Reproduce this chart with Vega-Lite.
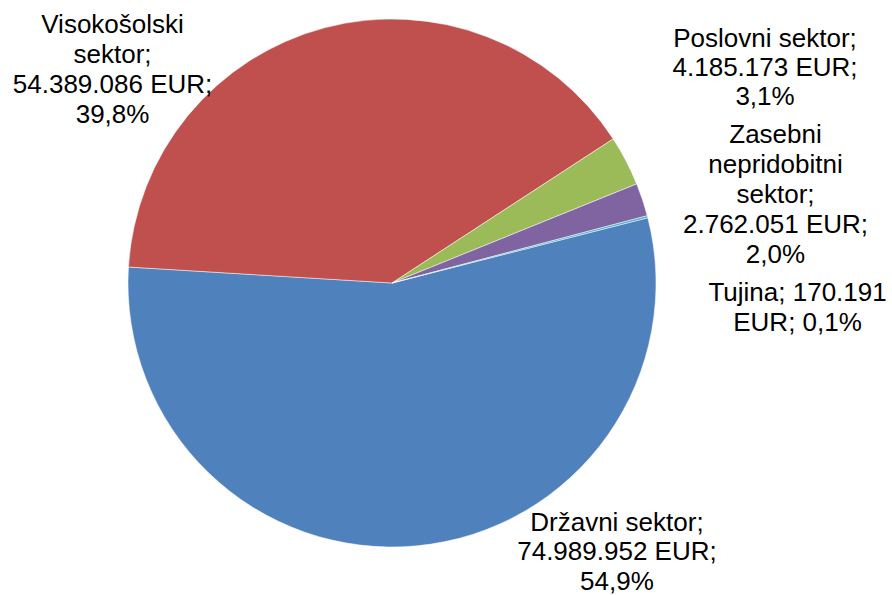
{
  "$schema": "https://vega.github.io/schema/vega-lite/v6.json",
  "width": 784,
  "height": 566,
  "autosize": "none",
  "padding": {"left": 0, "top": 0, "right": 108, "bottom": 29},
  "background": "white",
  "data": {
    "values": [
      {"cat": "Državni sektor", "value": 74989952, "ord": 1, "label": "Državni sektor;\n74.989.952 EUR;\n54,9%"},
      {"cat": "Visokošolski sektor", "value": 54389086, "ord": 2, "label": "Visokošolski\nsektor;\n54.389.086 EUR;\n39,8%"},
      {"cat": "Poslovni sektor", "value": 4185173, "ord": 3, "label": "Poslovni sektor;\n4.185.173 EUR;\n3,1%"},
      {"cat": "Zasebni nepridobitni sektor", "value": 2762051, "ord": 4, "label": "Zasebni\nnepridobitni\nsektor;\n2.762.051 EUR;\n2,0%"},
      {"cat": "Tujina", "value": 170191, "ord": 5, "label": "Tujina; 170.191\nEUR; 0,1%"}
    ]
  },
  "encoding": {
    "theta": {"field": "value", "type": "quantitative", "stack": true, "scale": {"range": [1.321, 7.6042]}},
    "order": {"field": "ord", "type": "quantitative", "sort": "ascending"}
  },
  "layer": [
    {
      "mark": {"type": "arc", "outerRadius": 264, "stroke": "white", "strokeWidth": 0.5},
      "encoding": {
        "color": {
          "field": "cat", "type": "nominal", "legend": null,
          "scale": {
            "domain": ["Državni sektor", "Visokošolski sektor", "Poslovni sektor", "Zasebni nepridobitni sektor", "Tujina"],
            "range": ["#4F81BD", "#C0504D", "#9BBB59", "#8064A2", "#4BACC6"]
          }
        }
      }
    },
    {
      "mark": {"type": "text", "radius": 264, "dx": 200, "dy": -23, "align": "center", "baseline": "middle", "lineBreak": "\n", "fontSize": 26, "lineHeight": 29.5, "font": "Liberation Sans", "color": "black"},
      "encoding": {"text": {"condition": {"test": "datum.cat === 'Državni sektor'", "field": "label"}, "value": ""}}
    },
    {
      "mark": {"type": "text", "radius": 264, "dx": -212, "dy": -3, "align": "center", "baseline": "middle", "lineBreak": "\n", "fontSize": 26, "lineHeight": 30, "font": "Liberation Sans", "color": "black"},
      "encoding": {"text": {"condition": {"test": "datum.cat === 'Visokošolski sektor'", "field": "label"}, "value": ""}}
    },
    {
      "mark": {"type": "text", "radius": 264, "dx": 139, "dy": -122, "align": "center", "baseline": "middle", "lineBreak": "\n", "fontSize": 26, "lineHeight": 29, "font": "Liberation Sans", "color": "black"},
      "encoding": {"text": {"condition": {"test": "datum.cat === 'Poslovni sektor'", "field": "label"}, "value": ""}}
    },
    {
      "mark": {"type": "text", "radius": 264, "dx": 133, "dy": -65, "align": "center", "baseline": "middle", "lineBreak": "\n", "fontSize": 26, "lineHeight": 30, "font": "Liberation Sans", "color": "black"},
      "encoding": {"text": {"condition": {"test": "datum.cat === 'Zasebni nepridobitni sektor'", "field": "label"}, "value": ""}}
    },
    {
      "mark": {"type": "text", "radius": 264, "dx": 150, "dy": 76, "align": "center", "baseline": "middle", "lineBreak": "\n", "fontSize": 26, "lineHeight": 30, "font": "Liberation Sans", "color": "black"},
      "encoding": {"text": {"condition": {"test": "datum.cat === 'Tujina'", "field": "label"}, "value": ""}}
    }
  ],
  "config": {"view": {"stroke": null}}
}
